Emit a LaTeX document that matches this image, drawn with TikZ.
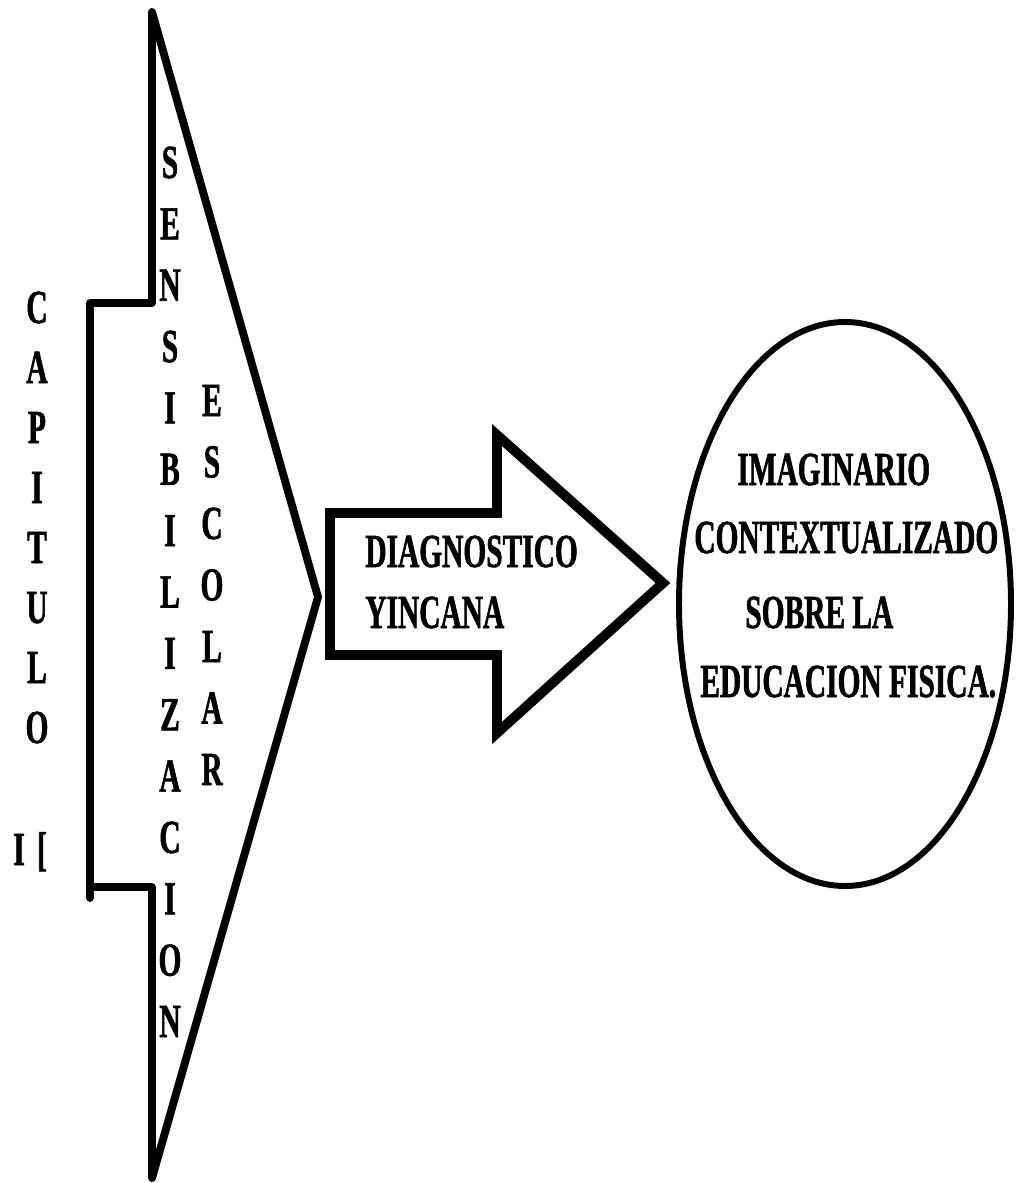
\documentclass[tikz,border=0pt]{standalone}
\usepackage{fontspec}
\newfontfamily\condfont{Liberation Serif}[FakeStretch=0.62, FakeBold=1.2]
\usetikzlibrary{positioning}

\begin{document}
\begin{tikzpicture}[x=0.02cm, y=-0.02cm,
    outline/.style={line width=4.5pt, line join=round},
    letter/.style={inner sep=0pt, anchor=base, font=\condfont\bfseries\fontsize{27}{30}\selectfont},
    line text/.style={inner sep=0pt, anchor=base west, font=\condfont\bfseries\fontsize{27}{30}\selectfont}]
    \useasboundingbox (0,0) rectangle (1020,1183);

    % big arrow
    \coordinate (big top) at (152,12);
    \coordinate (big tip) at (318,597);
    \coordinate (big bottom) at (152,1178);
    \draw[outline] (big top) -- (big tip) -- (big bottom) -- (152,887) -- (90,887)
        -- (90,303) -- (152,303) -- cycle;
    \draw[outline, line cap=round] (90,887) -- (90,898);

    % small arrow
    \coordinate (small tip) at (663,583);
    \draw[line width=5.6pt, line join=miter] (330,513) -- (497,513) -- (497,435) -- (small tip)
        -- (497,733) -- (497,655) -- (330,655) -- cycle;

    % ellipse
    \draw[line width=3.4pt] (845,604) ellipse [x radius=166, y radius=282];

    % vertical words
    \foreach \ch [count=\i from 0] in {C,A,P,I,T,U,L,O}
        \node[letter] (cap-\i) at (37,323+60*\i) {\ch};
    \node[letter] (cap-num1) at (19,865) {I};
    \node[letter] (cap-num2) at (42,865) {[};
    \foreach \ch [count=\i from 0] in {S,E,N,S,I,B,I,L,I,Z,A,C,I,O,N}
        \node[letter] (sens-\i) at (170,178+61.36*\i) {\ch};
    \foreach \ch [count=\i from 0] in {E,S,C,O,L,A,R}
        \node[letter] (esc-\i) at (212,416+61.5*\i) {\ch};

    % texts
    \node[line text] (diag) at (365,567) {DIAGNOSTICO};
    \node[line text] (yinc) at (365,628) {YINCANA};
    \node[line text] (imag) at (737,485) {IMAGINARIO};
    \node[line text] (cont) at (694,553) {CONTEXTUALIZADO};
    \node[line text] (sobre) at (745,628) {SOBRE LA};
    \node[line text] (educ) at (700,697) {EDUCACION FISICA.};
\end{tikzpicture}
\end{document}
